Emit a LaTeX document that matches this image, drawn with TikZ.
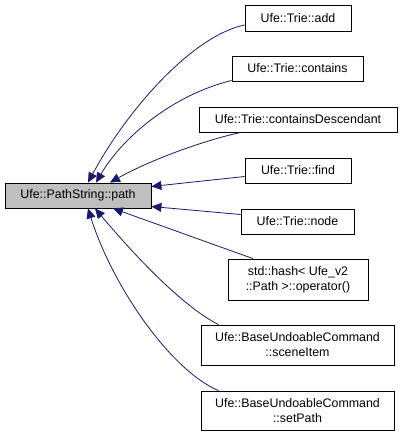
\documentclass[tikz,border=0pt]{standalone}
\usepackage{fontspec}
\setmainfont{Liberation Sans}
\usetikzlibrary{arrows.meta}
\definecolor{midnight}{HTML}{191970}

\begin{document}
\begin{tikzpicture}[x=1pt, y=-1pt, every node/.style={font=\fontsize{12.4}{15}\selectfont},
	box/.style={draw, line width=0.8pt, inner sep=0pt, align=center, minimum height=25pt},
	call/.style={draw=midnight, line width=0.8pt, -{Triangle[length=10pt, width=9pt, fill=midnight]}}]
	\useasboundingbox (0,0) rectangle (403,437);
	\node[box, fill=black!25, minimum width=146pt] (path) at (78,195.5) {Ufe::PathString::path};
	\foreach \name/\x/\y/\w/\h/\lab in {add/298/18/106/26/{Ufe::Trie::add}, contains/297.5/68.5/131/25/{Ufe::Trie::contains},
		containsdesc/298/119.5/198/25/{Ufe::Trie::containsDescendant}, find/298/170.5/106/25/{Ufe::Trie::find},
		trienode/297.5/221.5/113/25/{Ufe::Trie::node}, hash/298/279.5/140/41/{std::hash< Ufe\_v2\\::Path >::operator()},
		sceneitem/297.5/345/193/40/{Ufe::BaseUndoableCommand\\::sceneItem}, setpath/297.5/410.5/193/39/{Ufe::BaseUndoableCommand\\::setPath}} {
		\node[box, minimum width=\w pt, minimum height=\h pt] (\name) at (\x,\y) {\lab};
	}
	\draw[call] ([yshift=-7pt]add.west) .. controls (195,35) and (130,105) .. ([xshift=10pt]path.north);
	\draw[call] ([yshift=-12pt]contains.west) .. controls (172,95) and (122,138) .. ([xshift=18pt]path.north);
	\draw[call] ([xshift=-57pt]containsdesc.south) .. controls (205,140) and (150,160) .. ([xshift=32pt]path.north);
	\draw[call] ([yshift=-6pt]find.west) -- ([yshift=9pt]path.east);
	\draw[call] ([yshift=7pt]trienode.west) -- ([yshift=-11pt]path.east);
	\draw[call] ([xshift=-45pt]hash.north) -- ([xshift=35pt]path.south);
	\draw[call] ([xshift=-79pt]sceneitem.north) .. controls (180,305) and (130,250) .. ([xshift=17pt]path.south);
	\draw[call] ([xshift=-79pt]setpath.north) .. controls (170,370) and (112,285) .. ([xshift=10pt]path.south);
\end{tikzpicture}
\end{document}
